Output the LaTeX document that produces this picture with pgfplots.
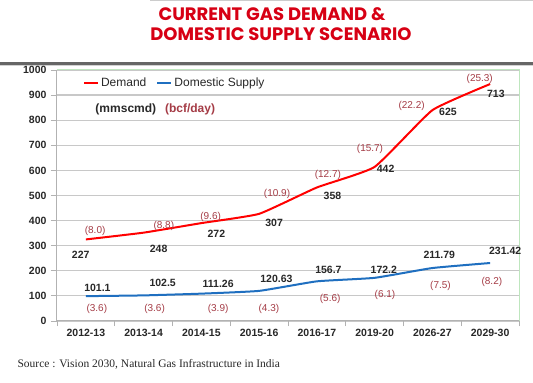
\documentclass[border=0pt]{standalone}
\usepackage{fontspec}
\setmainfont{Liberation Sans}
\newfontfamily\titlefont{Poppins}
\newfontfamily\srcfont{Liberation Serif}
\usepackage{pgfplots}
\pgfplotsset{compat=1.18}
\definecolor{demred}{RGB}{255,0,0}
\definecolor{supblue}{RGB}{31,111,192}
\definecolor{lblred}{RGB}{165,60,70}
\definecolor{ttlred}{RGB}{215,0,20}
\definecolor{gridgray}{RGB}{200,200,200}
\definecolor{frgreen}{RGB}{190,230,190}
\definecolor{txtdark}{RGB}{40,40,40}
\begin{document}
\begin{tikzpicture}[x=1pt,y=1pt]
\useasboundingbox (0,0) rectangle (533,383);
\fill[white] (0,0) rectangle (533,383);
\draw[gray!40, line width=1] (150,382.5) -- (533,382.5);
\draw[black!60, line width=2.5] (0,319.5) -- (533,319.5);
\draw[gray!35, line width=1.2] (0,317.2) -- (533,317.2);
\node[font=\titlefont\bfseries\fontsize{18}{18}\selectfont, text=ttlred] at (272,369) {CURRENT GAS DEMAND \&};
\node[font=\titlefont\bfseries\fontsize{18}{18}\selectfont, text=ttlred] at (281,349) {DOMESTIC SUPPLY SCENARIO};
\node[anchor=west, font=\srcfont\fontsize{11.5}{12}\selectfont, text=txtdark] at (14,19) {Source : Vision 2030, Natural Gas Infrastructure in India};
\begin{axis}[
  at={(57pt,62pt)}, anchor=south west,
  scale only axis, width=462pt, height=251pt,
  xmin=-0.5, xmax=7.5, ymin=0, ymax=1000,
  ytick={0,100,...,1000},
  xtick={0,...,7},
  xticklabels={2012-13,2013-14,2014-15,2015-16,2016-17,2019-20,2026-27,2029-30},
  minor xtick={-0.5,0.5,...,7.5},
  axis x line*=bottom, axis y line*=left,
  axis line style={gray!60, line width=1pt},
  major x tick style={draw=none},
  minor x tick style={gray!60, line width=0.8pt},
  y tick style={gray!60, line width=0.8pt},
  tick align=outside,
  major tick length=6pt, minor tick length=5pt,
  ymajorgrids, grid style={gridgray, line width=1.2pt},
  /pgf/number format/assume math mode=true,
  /pgf/number format/1000 sep={},
  ticklabel style={font=\bfseries\fontsize{10.5}{10.5}\selectfont, text=txtdark},
  yticklabel style={xshift=-1pt},
  xticklabel style={yshift=1pt},
  legend style={at={(rel axis cs:0.056,0.948)}, anchor=west, draw=none, fill=none,
    legend columns=2, font=\fontsize{12}{12}\selectfont, text=txtdark,
    inner sep=0pt,
    /tikz/every even column/.append style={column sep=8pt}},
  legend image code/.code={\draw[#1, line width=2pt] (0pt,0pt) -- (14pt,0pt);},
  clip=false,
]
\draw[frgreen, line width=1pt] (rel axis cs:0,1) -- (rel axis cs:1,1) -- (rel axis cs:1,0);
\addplot[demred, line width=2pt, smooth, tension=0.25] coordinates {
 (0,325) (1,352) (2,390) (3,427) (4,532) (5,614) (6,840) (7,944)};
\addlegendentry{Demand}
\addplot[supblue, line width=2pt, smooth, tension=0.25] coordinates {
 (0,99) (1,102) (2,109) (3,120) (4,158) (5,172) (6,211) (7,231)};
\addlegendentry{Domestic Supply}
% demand mmscmd labels
\addplot[draw=none, mark=none, nodes near coords, point meta=explicit symbolic,
  every node near coord/.append style={anchor=center, font=\bfseries\fontsize{10.5}{11}\selectfont, text=txtdark}]
  table[meta=l, row sep=\\]{x y l\\
  -0.09 265 227\\ 1.26 286 248\\ 2.26 346 272\\ 3.26 391 307\\ 4.27 497 358\\ 5.19 608 442\\ 6.27 834 625\\ 7.10 904 713\\};
% demand bcf labels
\addplot[draw=none, mark=none, nodes near coords, point meta=explicit symbolic,
  every node near coord/.append style={anchor=center, font=\fontsize{10}{10}\selectfont, text=lblred}]
  table[meta=l, row sep=\\]{x y l\\
  0.16 359 (8.0)\\ 1.35 378 (8.8)\\ 2.16 415 (9.6)\\ 3.31 508 (10.9)\\ 4.19 581 (12.7)\\ 4.92 684 (15.7)\\ 5.64 858 (22.2)\\ 6.82 964 (25.3)\\};
% supply mmscmd labels
\addplot[draw=none, mark=none, nodes near coords, point meta=explicit symbolic,
  every node near coord/.append style={anchor=center, font=\bfseries\fontsize{10.5}{11}\selectfont, text=txtdark}]
  table[meta=l, row sep=\\]{x y l\\
  0.20 132 101.1\\ 1.33 152 102.5\\ 2.29 149 111.26\\ 3.30 166 120.63\\ 4.20 202 156.7\\ 5.16 205 172.2\\ 6.12 262 211.79\\ 7.26 278 231.42\\};
% supply bcf labels
\addplot[draw=none, mark=none, nodes near coords, point meta=explicit symbolic,
  every node near coord/.append style={anchor=center, font=\fontsize{10}{10}\selectfont, text=lblred}]
  table[meta=l, row sep=\\]{x y l\\
  0.19 47 (3.6)\\ 1.19 47 (3.6)\\ 2.29 47 (3.9)\\ 3.17 47 (4.3)\\ 4.23 87 (5.6)\\ 5.18 102 (6.1)\\ 6.14 140 (7.5)\\ 7.03 156 (8.2)\\};
\node[font=\bfseries\fontsize{12}{12}\selectfont, text=txtdark] at (rel axis cs:0.149,0.845) {(mmscmd)};
\node[font=\fontsize{12}{12}\selectfont\bfseries, text=lblred] at (rel axis cs:0.288,0.845) {(bcf/day)};
\end{axis}
\end{tikzpicture}
\end{document}
